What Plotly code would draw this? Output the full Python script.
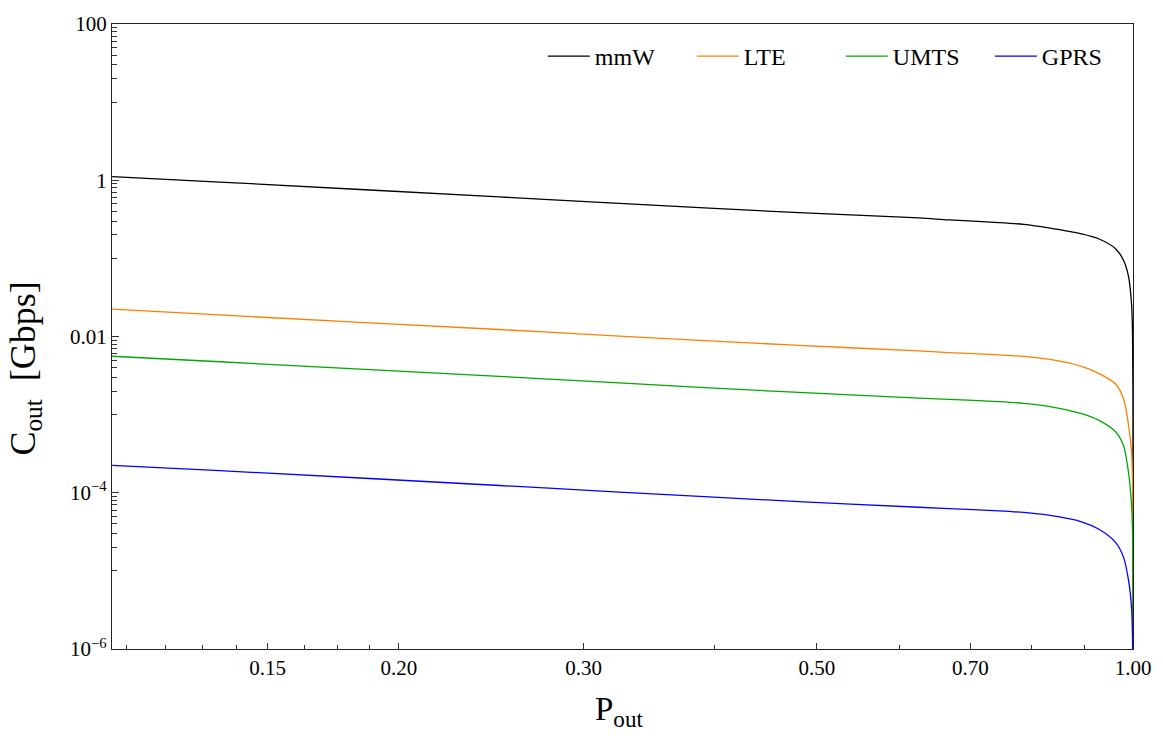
import plotly.graph_objects as go

# ---- data ----
p_out = [0.1067, 0.1351, 0.2493, 0.3243, 0.4809, 0.6254, 0.6679, 0.7447, 0.7868, 0.8309,
         0.8934, 0.9272, 0.9624, 0.9794, 0.9902, 0.9967, 0.999, 0.9999, 1.0]

c_mmw = [1.110, 0.948, 0.612, 0.505, 0.384, 0.329, 0.3103, 0.2876, 0.2721, 0.2458,
         0.2063, 0.1783, 0.1331, 0.0947, 0.0588, 0.0268, 0.011, 0.0015, 1e-8]
c_lte = [0.02247, 0.01887, 0.01229, 0.01013, 0.00770, 0.00654, 0.00623, 0.005822, 0.00557, 0.00512,
         0.00414, 0.00337, 0.00247, 0.00160, 0.00074, 0.000337, 0.00014, 1.6e-5, 1e-9]
c_umts = [0.005591, 0.004748, 0.003093, 0.002543, 0.001922, 0.001628, 0.001567, 0.001466, 0.001394, 0.001278,
          0.001029, 0.000849, 0.000604, 0.000401, 0.000182, 7.2e-5, 3.0e-5, 4e-6, 1e-9]
c_gprs = [2.239e-4, 1.919e-4, 1.239e-4, 1.019e-4, 7.70e-5, 6.52e-5, 6.26e-5, 5.87e-5, 5.60e-5, 5.16e-5,
          4.25e-5, 3.43e-5, 2.32e-5, 1.50e-5, 7.60e-6, 3.49e-6, 1.4e-6, 1.5e-7, 1e-10]

series_names = ["mmW", "LTE", "UMTS", "GPRS"]
series_values = [c_mmw, c_lte, c_umts, c_gprs]
series_colors = ["#000000", "#ff7f00", "#00a800", "#0000ff"]

x_tickvals = [0.15, 0.20, 0.30, 0.50, 0.70, 1.00]
x_ticktext = ["0.15", "0.20", "0.30", "0.50", "0.70", "1.00"]
x_minor = [0.11, 0.12, 0.13, 0.14, 0.1625, 0.175, 0.1875, 0.4, 0.6, 0.8, 0.9]

y_tickvals = [1e-6, 1e-4, 1e-2, 1, 100]
y_ticktext = ["10<sup>\u22126</sup>", "10<sup>\u22124</sup>", "0.01", "1", "100"]
y_minor = [k * 10.0 ** e for e in [1, -1, -3, -5] for k in range(1, 10)]

FONT = "Liberation Serif"

fig = go.Figure()
for name, vals, col in zip(series_names, series_values, series_colors):
    fig.add_trace(go.Scatter(x=p_out, y=vals, mode="lines", name=name,
                             line=dict(color=col, width=1.3, shape="spline", smoothing=0.8)))

fig.update_layout(
    width=1163, height=740,
    margin=dict(l=112, r=29, t=18, b=91),
    paper_bgcolor="white", plot_bgcolor="white",
    font=dict(family=FONT, size=21, color="black"),
    showlegend=True,
    legend=dict(orientation="h", x=0.422, xanchor="left", y=0.948, yanchor="middle",
                font=dict(family=FONT, size=24, color="black"),
                bgcolor="rgba(0,0,0,0)", itemwidth=42, traceorder="normal",
                entrywidth=92, entrywidthmode="pixels"),
    annotations=[
        dict(text="P<sub>out</sub>", x=0.497, y=-0.1006, xref="paper", yref="paper",
             xanchor="center", yanchor="middle", showarrow=False,
             font=dict(family=FONT, size=33, color="black")),
        dict(text="C<sub>out</sub>  [Gbps]", x=-0.0851, y=0.449, xref="paper", yref="paper",
             xanchor="center", yanchor="middle", showarrow=False, textangle=-90,
             font=dict(family=FONT, size=36, color="black")),
    ],
)

fig.update_xaxes(
    type="log", range=[-0.97196, 0.0],
    showgrid=False, zeroline=False,
    showline=True, linecolor="#222", linewidth=1.2, mirror=True,
    ticks="inside", ticklen=6, tickwidth=1, tickcolor="#333",
    tickmode="array", tickvals=x_tickvals, ticktext=x_ticktext,
    tickfont=dict(family=FONT, size=21, color="black"),
    minor=dict(tickmode="array", tickvals=x_minor, ticks="inside", ticklen=4,
               tickwidth=1, tickcolor="#333", showgrid=False),
)
fig.update_yaxes(
    type="log", range=[-6, 2],
    showgrid=False, zeroline=False,
    showline=True, linecolor="#222", linewidth=1.2, mirror=True,
    ticks="inside", ticklen=7, tickwidth=1, tickcolor="#333",
    tickmode="array", tickvals=y_tickvals, ticktext=y_ticktext,
    tickfont=dict(family=FONT, size=21, color="black"),
    minor=dict(tickmode="array", tickvals=y_minor, ticks="inside", ticklen=4.5,
               tickwidth=1, tickcolor="#333", showgrid=False),
)

fig.write_html("out.html")
